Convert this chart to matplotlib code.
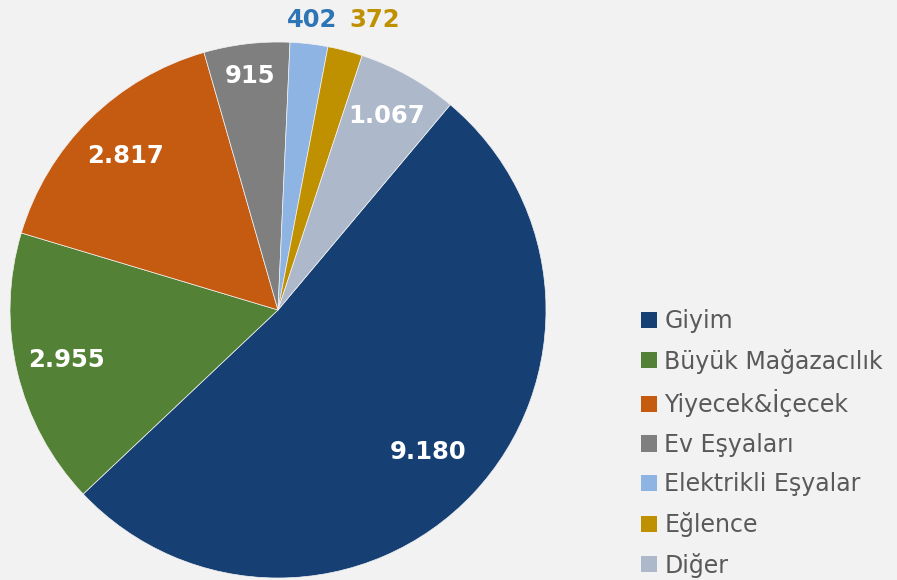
import matplotlib.pyplot as plt
from matplotlib.patches import Patch
import numpy as np

categories = ["Giyim", "Büyük Mağazacılık", "Yiyecek&İçecek", "Ev Eşyaları",
              "Elektrikli Eşyalar", "Eğlence", "Diğer"]
values = [9180, 2955, 2817, 915, 402, 372, 1067]
value_labels = ["9.180", "2.955", "2.817", "915", "402", "372", "1.067"]

colors = ["#163F74", "#538135", "#C55A11", "#7F7F7F", "#8EB4E3", "#BF9000", "#ADB9CA"]
label_colors = ["white", "white", "white", "white", "#2E75B6", "#BF9000", "white"]
label_dist = [0.77, 0.81, 0.81, 0.88, 1.09, 1.14, 0.83]
label_shift = [0, 0, 0, 0, 0, 4, 0]  # degrees, clockwise

bg = "#F2F2F2"
fig = plt.figure(figsize=(8.97, 5.80), dpi=100, facecolor=bg)
ax = fig.add_axes([10 / 897, 2 / 580, 536 / 897, 536 / 580])
ax.set_facecolor(bg)

wedges, _ = ax.pie(values, colors=colors, startangle=50, counterclock=False,
                   radius=1, wedgeprops=dict(linewidth=0.5, edgecolor=bg))
ax.set_xlim(-1, 1)
ax.set_ylim(-1, 1)
ax.set_aspect("equal")

for w, lab, c, d, s in zip(wedges, value_labels, label_colors, label_dist, label_shift):
    ang = np.deg2rad((w.theta1 + w.theta2) / 2 - s)
    ax.text(d * np.cos(ang), d * np.sin(ang), lab, color=c, fontsize=17.5,
            fontweight="bold", ha="center", va="center", clip_on=False)

handles = [Patch(facecolor=c, edgecolor="none") for c in colors]
leg = fig.legend(handles, categories, loc="upper left", bbox_to_anchor=(641 / 897, 1 - 309 / 580),
                 frameon=False, fontsize=17, handlelength=0.68, handleheight=0.68,
                 handletextpad=0.3, labelspacing=0.66, borderaxespad=0, borderpad=0)
for t in leg.get_texts():
    t.set_color("#595959")

fig.savefig("out.png", dpi=100, facecolor=bg)
